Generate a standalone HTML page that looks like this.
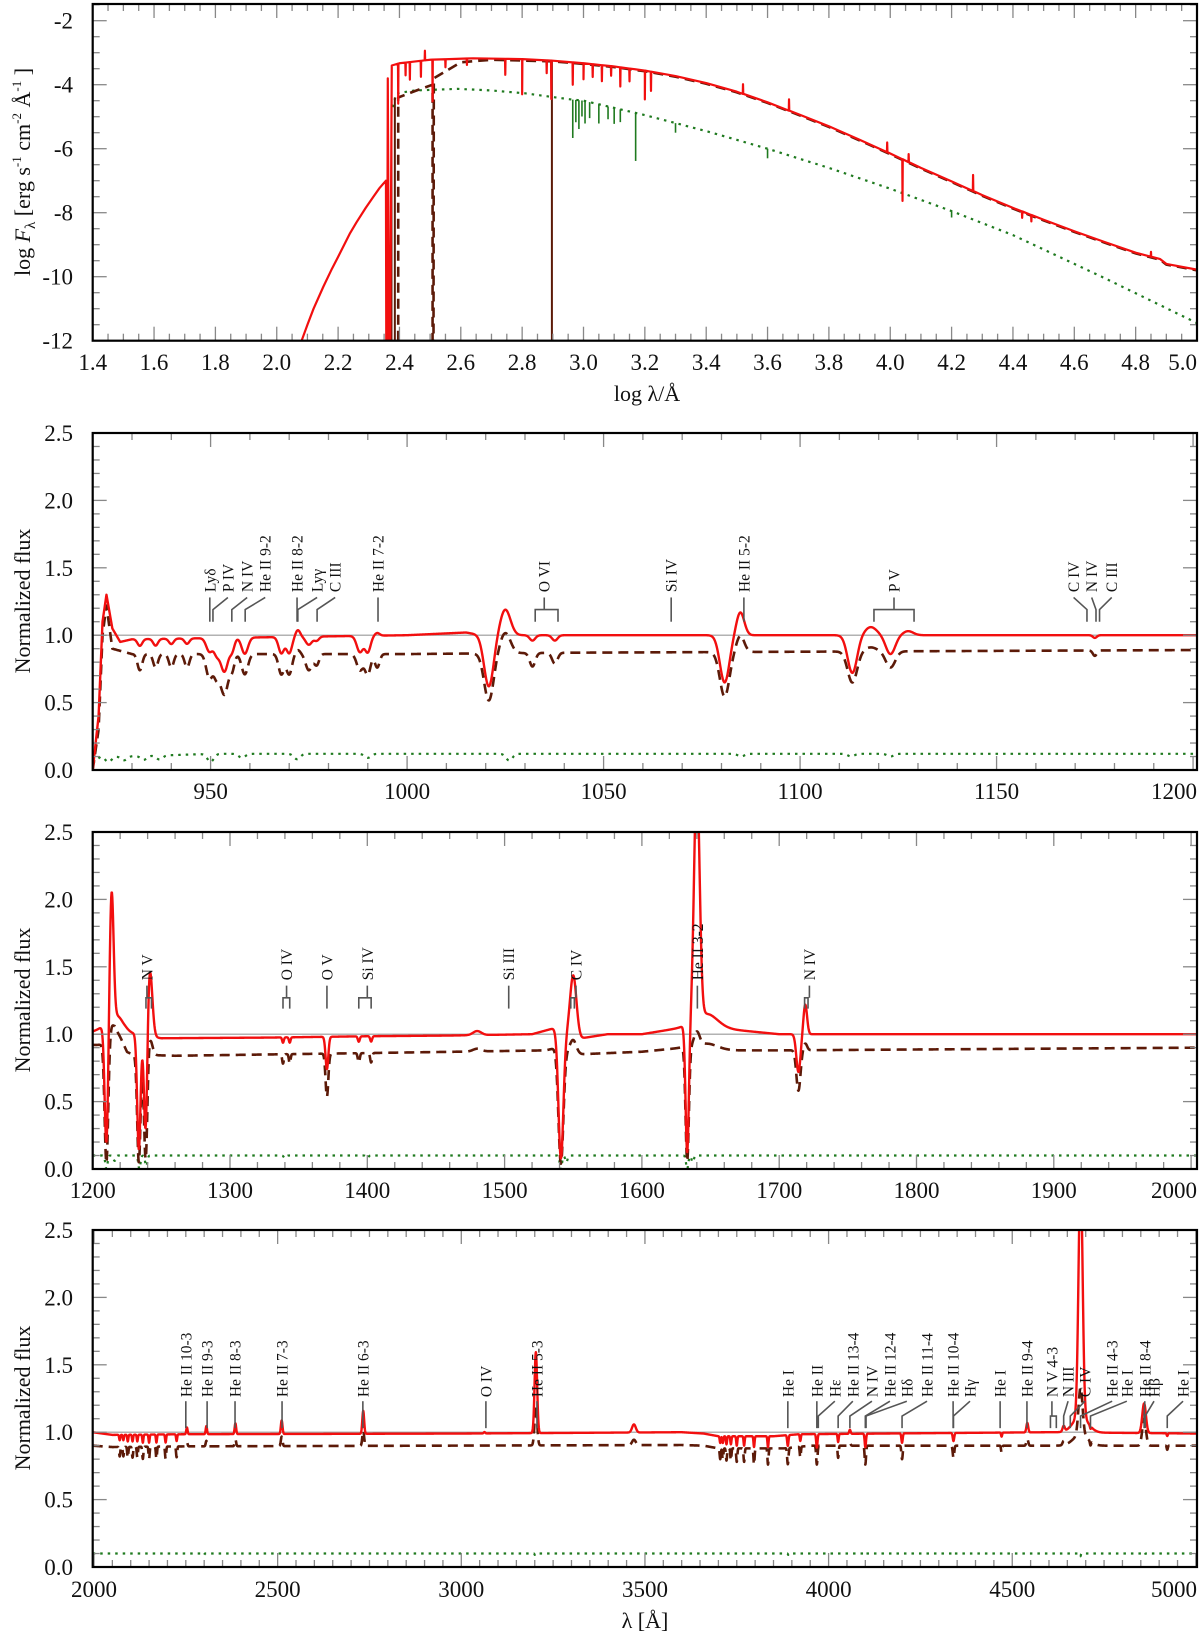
<!DOCTYPE html>
<html><head><meta charset="utf-8"><title>Spectral energy distribution and normalized spectra</title>
<style>
html,body{margin:0;padding:0;background:#fff;}
svg{display:block;font-family:"Liberation Serif","DejaVu Serif",serif;}
</style></head>
<body>
<svg id="fig" width="1200" height="1634" viewBox="0 0 1200 1634" xmlns="http://www.w3.org/2000/svg"></svg>
<script>
// ---------- Panel 1: SED (log lambda, log F) ----------
const p1RedKnots = [[2.081,-12],[2.1,-11.5],[2.12,-11.0],[2.152,-10.31],[2.18,-9.75],[2.2,-9.38],[2.239,-8.64],[2.26,-8.3],[2.29,-7.85],[2.315,-7.5],[2.335,-7.23],[2.356,-7.0],[2.357,-12],[2.36,-12],[2.362,-3.8],[2.366,-12],[2.37,-12],[2.375,-3.4],[2.4,-3.33],[2.5,-3.22],[2.64,-3.175],[2.8,-3.2],[2.9,-3.25],[3.0,-3.33],[3.1,-3.43],[3.2,-3.56],[3.3,-3.73],[3.4,-3.95],[3.5,-4.22],[3.6,-4.55],[3.7,-4.92],[3.8,-5.3],[3.9,-5.72],[4.0,-6.15],[4.1,-6.6],[4.2,-7.02],[4.3,-7.45],[4.4,-7.85],[4.5,-8.22],[4.6,-8.58],[4.7,-8.92],[4.8,-9.25],[4.88,-9.45],[4.9,-9.6],[5.0,-9.78]];
const p1RedSpikes = [[2.396,-1.25],[2.42,-0.4],[2.434,-0.55],[2.47,-0.5],[2.483,0.3],[2.508,-1.3],[2.55,-0.25],[2.62,-0.2],[2.745,-0.5],[2.8,-1.1],[2.88,-0.4],[2.895,-1.2],[2.965,-0.7],[3.0,-0.5],[3.03,-0.4],[3.06,-0.5],[3.09,-0.3],[3.12,-0.6],[3.15,-0.4],[3.2,-0.9],[3.22,-0.6],[3.52,0.3],[3.67,0.35],[3.99,0.3],[4.04,-1.3],[4.06,0.25],[4.27,0.5],[4.43,-0.2],[4.46,-0.2],[4.85,0.15]];
const p1BrownKnots = [[2.396,-12],[2.396,-4.4],[2.45,-4.2],[2.508,-4.0],[2.508,-12],[2.511,-12],[2.512,-3.8],[2.6,-3.3],[2.7,-3.22],[2.9,-3.27],[3.0,-3.35],[3.1,-3.45],[3.2,-3.58],[3.3,-3.75],[3.4,-3.97],[3.5,-4.24],[3.6,-4.57],[3.7,-4.94],[3.8,-5.32],[3.9,-5.74],[4.0,-6.17],[4.1,-6.62],[4.2,-7.04],[4.3,-7.47],[4.4,-7.87],[4.5,-8.24],[4.6,-8.6],[4.7,-8.94],[4.8,-9.27],[4.88,-9.47],[4.9,-9.62],[5.0,-9.8]];
const p1EdgeX = [2.374,2.385,2.897];
const p1EdgeTop = [-4.6,-4.4,-3.25];
const p1GreenKnots = [[2.378,-4.7],[2.39,-4.27],[2.45,-4.18],[2.59,-4.13],[2.7,-4.18],[2.81,-4.27],[2.95,-4.45],[3.0,-4.5],[3.2,-4.95],[3.4,-5.45],[3.6,-6.0],[3.8,-6.6],[4.0,-7.25],[4.2,-7.95],[4.4,-8.7],[4.7,-10.05],[5.0,-11.45]];
const p1GreenSpikes = [[2.965,-1.2],[2.975,-0.7],[2.985,-0.9],[2.995,-0.5],[3.005,-0.7],[3.02,-0.5],[3.05,-0.6],[3.08,-0.4],[3.1,-0.5],[3.12,-0.4],[3.17,-1.5],[3.3,-0.3],[3.6,-0.3],[4.2,-0.2]];

// ---------- Panel 2: 920-1200 A ----------
const p2Centers = [932,936,940,944,949.7,951.5,953.5,955.5,958.7,968,970,972.2,975,977,988,990,992.4,1020.8,1025,1031.9,1037.6,1080.8,1084.8,1113.3,1118,1123,1127.5,1175];
const p2Widths  = [0.6,0.6,0.6,0.6,0.8,0.7,1.0,0.6,0.8,0.7,0.7,0.6,0.8,0.6,0.8,0.7,0.6,1.2,1.3,0.7,0.7,1.2,1.0,1.2,1.5,1.2,1.3,0.5];
const p2RedAmp  = [-0.05,-0.05,-0.04,-0.04,-0.1,-0.1,-0.25,-0.08,-0.12,-0.12,-0.12,0.05,-0.06,-0.03,-0.12,-0.12,0.02,-0.38,0.19,-0.04,-0.04,-0.35,0.17,-0.28,0.06,-0.14,0.03,-0.02];
const p2BrownAmp= [-0.12,-0.1,-0.1,-0.1,-0.18,-0.15,-0.3,-0.1,-0.15,-0.15,-0.15,0.03,-0.12,-0.08,-0.12,-0.15,-0.1,-0.35,0.15,-0.1,-0.08,-0.33,0.12,-0.23,0.03,-0.12,0.0,-0.04];
const p2RedCont   = [[920,0.0],[921.5,0.4],[922.5,1.1],[923.5,1.3],[925,1.05],[927,0.95],[930,0.97],[1000,1.0],[1015,1.02],[1019,1.0],[1201,1.0]];
const p2BrownCont = [[920,0.0],[921.5,0.3],[922.5,1.0],[923.5,1.22],[925,0.9],[930,0.86],[1000,0.86],[1040,0.87],[1201,0.89]];
const p2GreenCont = [[920,0.05],[922,0.1],[925,0.1],[940,0.11],[950,0.12],[1201,0.12]];
const p2GreenCenters = [924,928,933,937,950,958,972,990,1026,1085,1113,1123];
const p2GreenAmp     = [-0.04,-0.03,-0.03,-0.03,-0.06,-0.03,-0.04,-0.03,-0.05,-0.02,-0.02,-0.02];

// ---------- Panel 3: 1200-2000 A ----------
const p3Centers = [1210,1213.8,1218,1233.6,1238.6,1241.6,1338.6,1343.5,1370.6,1393.8,1402.8,1480,1541,1550,1633,1640,1647,1714,1719];
const p3Widths  = [1.3,1.4,5,1.2,1.2,1.8,0.6,0.6,1.0,0.7,0.7,3,1.8,2.3,1.2,2.0,8,1.5,1.3];
const p3RedAmp  = [-0.9,0.95,0.12,-0.85,-0.8,0.5,-0.04,-0.04,-0.24,-0.04,-0.04,0.03,-0.95,0.45,-0.95,1.8,0.1,-0.28,0.22];
const p3BrownAmp= [-0.9,0.05,0.05,-0.8,-0.8,0.12,-0.07,-0.07,-0.32,-0.07,-0.07,0.02,-0.85,0.1,-0.85,0.1,0.05,-0.3,0.05];
const p3RedCont   = [[1200,1.02],[1205,1.04],[1209,1.05],[1222,1.0],[1230,1.0],[1250,0.97],[1330,0.975],[1400,0.985],[1460,0.99],[1520,1.0],[1538,1.05],[1545,1.0],[1556,0.97],[1575,1.0],[1600,1.0],[1630,1.05],[1650,1.05],[1700,1.0],[2005,1.0]];
const p3BrownCont = [[1200,0.92],[1209,0.92],[1216,1.0],[1225,0.85],[1260,0.84],[1400,0.86],[1530,0.88],[1538,0.9],[1552,0.85],[1600,0.87],[1630,0.9],[1645,0.88],[1700,0.88],[2005,0.9]];
const p3GreenCont = [[1200,0.1],[2005,0.1]];
const p3GreenCenters = [1210,1216,1234,1239,1340,1400,1541,1545,1633,1637];
const p3GreenAmp     = [-0.1,-0.04,-0.1,-0.08,-0.02,-0.02,-0.1,-0.05,-0.1,-0.05];

// ---------- Panel 4: 2000-5000 A ----------
const p4Centers = [2070,2080,2092,2105,2118,2133,2150,2170,2195,2225,2253,2306,2385,2511,2733,3063,3203,3470,3705,3712,3722,3734,3750,3770,3797,3835,3889,3923,3968,4026,4058,4100,4200,4340,4471,4541,4640,4686,4686,4713,4859,4922];
const p4Widths  = [1.5,1.5,1.5,1.5,1.5,1.5,1.5,1.5,1.5,1.5,1.8,1.8,2,2.2,2.5,2,3.5,5,1.5,1.5,1.5,1.5,1.5,1.5,1.5,1.5,1.8,1.5,1.8,1.5,2,1.8,1.8,2,1.5,2.5,3,5.5,20,1.5,5,1.5];
const p4RedAmp  = [-0.04,-0.04,-0.05,-0.05,-0.05,-0.06,-0.06,-0.06,-0.06,-0.05,0.05,0.06,0.08,0.1,0.17,0.01,0.6,0.06,-0.05,-0.05,-0.06,-0.06,-0.07,-0.07,-0.08,-0.08,-0.08,-0.05,-0.1,-0.06,0.03,-0.1,-0.07,-0.06,-0.03,0.07,0.04,1.8,0.12,-0.02,0.22,-0.02];
const p4BrownAmp= [-0.07,-0.07,-0.08,-0.08,-0.08,-0.09,-0.09,-0.09,-0.09,-0.08,0.03,0.04,0.05,0.07,0.11,0.0,0.3,0.04,-0.08,-0.08,-0.09,-0.09,-0.1,-0.1,-0.12,-0.12,-0.12,-0.08,-0.14,-0.09,0.02,-0.14,-0.1,-0.09,-0.05,0.05,0.03,0.35,0.08,-0.03,0.2,-0.03];
const p4RedCont   = [[1996,1.0],[2050,0.98],[2250,0.985],[3000,0.99],[3600,1.0],[3660,0.99],[3700,0.97],[3850,0.97],[3920,0.985],[4600,1.0],[5003,0.99]];
const p4BrownCont = [[1996,0.9],[2050,0.89],[2250,0.895],[3600,0.905],[3660,0.9],[3700,0.88],[3880,0.88],[3950,0.9],[5003,0.9]];
const p4GreenCont = [[1996,0.1],[5003,0.1]];
const p4GreenCenters = [2300,3200,3890,4100,4340,4686,4861];
const p4GreenAmp     = [-0.01,-0.01,-0.01,-0.01,-0.01,-0.02,-0.01];

// ---------- Line identification labels ----------
const p2LabelNames = ["Lyδ","P IV","N IV","He II 9-2","He II 8-2","Lyγ","C III","He II 7-2","O VI","Si IV","He II 5-2","P V","C IV","N IV","C III"];
const p2LabelX     = [949.8,954.4,959.3,963.9,972.0,977.1,981.7,992.6,1034.9,1067.2,1085.7,1123.9,1169.6,1174.2,1179.3];
const p2LineX      = [949.8,950.6,955.4,958.8,972.0,972.2,977.1,992.6,1032.6,1067.2,1085.7,1118.8,1173.0,1175.3,1176.2];
const p2LineX2     = [null,null,null,null,null,null,null,null,1038.4,null,null,1129,null,null,null];
const p3LabelNames = ["N V","O IV","O V","Si IV","Si III","C IV","He II 3-2","N IV"];
const p3LabelX     = [1239.5,1341.2,1370.6,1400,1503,1552,1640.4,1722];
const p3LineX      = [1238.8,1338.6,1370.6,1393.8,1503,1548.2,1640.4,1718.5];
const p3LineX2     = [1242.8,1343.5,null,1402.8,null,1550.8,null,1721];
const p4LabelNames = ["He II 10-3","He II 9-3","He II 8-3","He II 7-3","He II 6-3","O IV","He II 5-3","He I","He II","Hε","He II 13-4","N IV","He II 12-4","Hδ","He II 11-4","He II 10-4","Hγ","He I","He II 9-4","N V 4-3","N III","C IV","He II 4-3","He I","He II 8-4","Hβ","He I"];
const p4LabelX     = [2250,2308,2384,2512,2732,3067,3206,3889,3968,4017,4066,4118,4167,4213,4268,4339,4385,4467,4540,4608,4652,4698,4772,4812,4861,4886,4965];
const p4LineX      = [2250,2308,2384,2512,2732,3067,3206,3889,3968,3972,4026,4058,4100,4102,4200,4339,4340,4467,4540,4604,4640,4658,4686,4713,4859,4862,4922];
const p4LineX2     = [null,null,null,null,null,null,null,null,null,null,null,null,null,null,null,null,null,null,null,4620,null,null,null,null,null,null,null];

// ---------- rendering ----------
const NS = "http://www.w3.org/2000/svg";
const svg = document.getElementById('fig');
function mk(tag, attrs, parent){
  const e = document.createElementNS(NS, tag);
  for (const k in attrs) e.setAttribute(k, attrs[k]);
  (parent||svg).appendChild(e);
  return e;
}
function interp(knots, x){
  if (x <= knots[0][0]) return knots[0][1];
  for (let i=1;i<knots.length;i++){
    if (x <= knots[i][0]){
      const a=knots[i-1], b=knots[i];
      if (b[0]===a[0]) return b[1];
      return a[1] + (b[1]-a[1])*(x-a[0])/(b[0]-a[0]);
    }
  }
  return knots[knots.length-1][1];
}
function makePanel(id, L, R, T, B, xmin, xmax, ymin, ymax){
  const P = {L,R,T,B,xmin,xmax,ymin,ymax};
  P.sx = v => L + (v-xmin)/(xmax-xmin)*(R-L);
  P.sy = v => B - (v-ymin)/(ymax-ymin)*(B-T);
  const cp = mk('clipPath', {id:'clip'+id});
  mk('rect', {x:L, y:T, width:R-L, height:B-T}, cp);
  P.g = mk('g', {'clip-path':'url(#clip'+id+')'});
  
  
  return P;
}
function drawAxes(P, id, xMajor, xMinor, yMajor, yMinor, xFmt, yFmt, xLabY){
  const g = mk('g', {});
  
  
  const eps = 1e-9;
  const tickCol = '#888';
  for (let v = Math.ceil(P.xmin/xMinor-eps)*xMinor; v <= P.xmax+eps; v += xMinor){
    const x = P.sx(v);
    const isMaj = Math.abs(v/xMajor - Math.round(v/xMajor)) < 1e-6;
    const len = isMaj ? 14 : 7;
    mk('line', {x1:x, x2:x, y1:P.B, y2:P.B-len, stroke:tickCol, 'stroke-width':1.3}, g);
    mk('line', {x1:x, x2:x, y1:P.T, y2:P.T+len, stroke:tickCol, 'stroke-width':1.3}, g);
  }
  for (let v = Math.ceil(P.ymin/yMinor-eps)*yMinor; v <= P.ymax+eps; v += yMinor){
    const y = P.sy(v);
    const isMaj = Math.abs(v/yMajor - Math.round(v/yMajor)) < 1e-6;
    const len = isMaj ? 14 : 7;
    mk('line', {x1:P.L, x2:P.L+len, y1:y, y2:y, stroke:tickCol, 'stroke-width':1.3}, g);
    mk('line', {x1:P.R, x2:P.R-len, y1:y, y2:y, stroke:tickCol, 'stroke-width':1.3}, g);
  }
  for (let v = Math.ceil(P.xmin/xMajor-eps)*xMajor; v <= P.xmax+eps; v += xMajor){
    const x = P.sx(v);
    const t = mk('text', {x:x, y:xLabY, 'font-size':23, 'text-anchor':'middle', fill:'#111'}, g);
    
    
    t.textContent = xFmt(v);
    if (x + 24 > P.R + 4){ t.setAttribute('text-anchor','end'); t.setAttribute('x', P.R); }
  }
  for (let v = Math.ceil(P.ymin/yMajor-eps)*yMajor; v <= P.ymax+eps; v += yMajor){
    const y = P.sy(v);
    const t = mk('text', {x:73, y:y+8, 'font-size':23, 'text-anchor':'end', fill:'#111'}, g);
    
    
    t.textContent = yFmt(v);
  }
  const fr = mk('rect', {x:P.L, y:P.T, width:P.R-P.L, height:P.B-P.T, fill:'none', stroke:'#000', 'stroke-width':2.2}, g);
  
  
}
function pathFrom(P, pts){
  let d = '';
  pts.forEach((p,i)=>{ d += (i?'L':'M') + P.sx(p[0]).toFixed(2) + ' ' + P.sy(Math.max(P.ymin-1, Math.min(P.ymax+1, p[1]))).toFixed(2); });
  return d;
}
function spectrum(xmin, xmax, step, cont, centers, widths, amps){
  const pts = [];
  for (let x = xmin; x <= xmax; x += step){
    let y = interp(cont, x);
    for (let i=0;i<centers.length;i++){
      const w = widths ? widths[i] : 0.8;
      const d = (x-centers[i])/w;
      if (Math.abs(d) < 6) y += amps[i]*Math.exp(-0.5*d*d);
    }
    pts.push([x,y]);
  }
  return pts;
}
function withSpikes(knots, spikes){
  const pts = knots.map(p=>[p[0],p[1]]);
  spikes.forEach(s=>{
    const base = interp(knots, s[0]);
    pts.push([s[0]-0.0008, base],[s[0], base+s[1]],[s[0]+0.0008, base]);
  });
  pts.sort((a,b)=>a[0]-b[0]);
  return pts;
}
const RED = '#f20f0f', BROWN = '#5c1a08', GREEN = '#1f7a1f';
function series(P, pts, color, dash, width, name){
  const p = mk('path', {d:pathFrom(P, pts), fill:'none', stroke:color, 'stroke-width':width, 'stroke-linejoin':'round'}, P.g);
  if (dash) p.setAttribute('stroke-dasharray', dash);
  
  
  return p;
}
function drawLabels(P, id, names, lx, l1, l2, vText, vTop, vKnee, vBot){
  const g = mk('g', {});
  
  
  for (let i=0;i<names.length;i++){
    const x = P.sx(lx[i]);
    const yT = P.sy(vText), yTop = P.sy(vTop), yK = P.sy(vKnee), yB = P.sy(vBot);
    const t = mk('text', {x:0, y:0, 'font-size':15.5, 'text-anchor':'start', fill:'#111', transform:'translate('+(x+5.5)+','+yT+') rotate(-90)'}, g);
    
    
    t.textContent = names[i];
    let d;
    if (l2[i] !== null){
      const a = P.sx(l1[i]), b = P.sx(l2[i]);
      d = 'M'+x+' '+yTop+'L'+x+' '+yK+'M'+a+' '+yB+'L'+a+' '+yK+'L'+b+' '+yK+'L'+b+' '+yB;
    } else {
      const lxp = P.sx(l1[i]);
      d = 'M'+x+' '+yTop+'L'+lxp+' '+yK+'L'+lxp+' '+yB;
    }
    const c = mk('path', {d:d, fill:'none', stroke:'#555', 'stroke-width':1.6}, g);
    
    
  }
}
function refLine(P, v){
  const l = mk('line', {x1:P.L, x2:P.R, y1:P.sy(v), y2:P.sy(v), stroke:'#999', 'stroke-width':1.2}, P.g);
  
  
}

// ---- Panel 1 ----
const P1 = makePanel('sed', 92.7, 1197, 4, 340.7, 1.4, 5.0, -12, -12+336.7/32);
series(P1, withSpikes(p1GreenKnots, []), GREEN, '2.5,5', 2.2, 'model-green-dotted');
p1GreenSpikes.forEach(s=>{
  const b = interp(p1GreenKnots, s[0]);
  const l = mk('line', {x1:P1.sx(s[0]), x2:P1.sx(s[0]), y1:P1.sy(b), y2:P1.sy(b+s[1]), stroke:GREEN, 'stroke-width':1.6}, P1.g);
  
  
});
p1EdgeX.forEach((x,i)=>{
  const l = mk('line', {x1:P1.sx(x), x2:P1.sx(x), y1:P1.sy(p1EdgeTop[i]), y2:P1.sy(-12), stroke:BROWN, 'stroke-width':2}, P1.g);
  
  
});
series(P1, p1BrownKnots, BROWN, '10,6', 2.6, 'model-brown-dashed');
series(P1, withSpikes(p1RedKnots, p1RedSpikes), RED, null, 2.2, 'model-red-solid');
drawAxes(P1, 'sed', 0.2, 0.05, 2, 0.5, v=>v.toFixed(1), v=>String(Math.round(v)), 370);

// ---- Panels 2-4 ----
function specPanel(id, T, xmin, xmax, step, rc, bc, gc, cen, wid, ra, ba, gcen, gamp){
  const P = makePanel(id, 92.7, 1197, T, T+337, xmin, xmax, 0, 2.5);
  refLine(P, 1.0);
  series(P, spectrum(xmin, xmax, step, gc, gcen, null, gamp), GREEN, '2.5,5', 2.2, 'model-green-dotted');
  series(P, spectrum(xmin, xmax, step, bc, cen, wid, ba), BROWN, '10,6', 2.6, 'model-brown-dashed');
  series(P, spectrum(xmin, xmax, step, rc, cen, wid, ra), RED, null, 2.4, 'model-red-solid');
  return P;
}
const P2 = specPanel('fuv1', 433, 920, 1201, 0.1, p2RedCont, p2BrownCont, p2GreenCont, p2Centers, p2Widths, p2RedAmp, p2BrownAmp, p2GreenCenters, p2GreenAmp);
drawAxes(P2, 'fuv1', 50, 10, 0.5, 0.1, v=>String(Math.round(v)), v=>v.toFixed(1), 799);
drawLabels(P2, 'fuv1', p2LabelNames, p2LabelX, p2LineX, p2LineX2, 1.32, 1.28, 1.19, 1.10);

const P3 = specPanel('uv', 832, 1200, 2004.3, 0.25, p3RedCont, p3BrownCont, p3GreenCont, p3Centers, p3Widths, p3RedAmp, p3BrownAmp, p3GreenCenters, p3GreenAmp);
drawAxes(P3, 'uv', 100, 20, 0.5, 0.1, v=>String(Math.round(v)), v=>v.toFixed(1), 1198);
drawLabels(P3, 'uv', p3LabelNames, p3LabelX, p3LineX, p3LineX2, 1.40, 1.36, 1.27, 1.19);

const P4 = specPanel('opt', 1230, 1996.5, 5003, 0.5, p4RedCont, p4BrownCont, p4GreenCont, p4Centers, p4Widths, p4RedAmp, p4BrownAmp, p4GreenCenters, p4GreenAmp);
drawAxes(P4, 'opt', 500, 50, 0.5, 0.1, v=>String(Math.round(v)), v=>v.toFixed(1), 1597);
drawLabels(P4, 'opt', p4LabelNames, p4LabelX, p4LineX, p4LineX2, 1.26, 1.23, 1.12, 1.03);

// ---- Axis titles ----
function ytitle(cx, cy, name, html){
  const t = mk('text', {x:0, y:0, 'font-size':22, 'text-anchor':'middle', fill:'#111', transform:'translate('+cx+','+cy+') rotate(-90)'});
  
  
  t.innerHTML = html;
}
ytitle(30, 172, 'y-axis-title-sed', 'log <tspan font-style="italic">F</tspan><tspan font-size="15" dy="5">λ</tspan><tspan dy="-5"> [erg s</tspan><tspan font-size="13" dy="-9">-1</tspan><tspan dy="9"> cm</tspan><tspan font-size="13" dy="-9">-2</tspan><tspan dy="9"> Å</tspan><tspan font-size="13" dy="-9">-1</tspan><tspan dy="9"> ]</tspan>');
ytitle(30, 601, 'y-axis-title-fuv1', 'Normalized flux');
ytitle(30, 1000, 'y-axis-title-uv', 'Normalized flux');
ytitle(30, 1398, 'y-axis-title-opt', 'Normalized flux');
const xt1 = mk('text', {x:647, y:401, 'font-size':22, 'text-anchor':'middle', fill:'#111'});


xt1.textContent = 'log λ/Å';
const xt4 = mk('text', {x:645, y:1628, 'font-size':22, 'text-anchor':'middle', fill:'#111'});


xt4.textContent = 'λ [Å]';
</script>
</body></html>
